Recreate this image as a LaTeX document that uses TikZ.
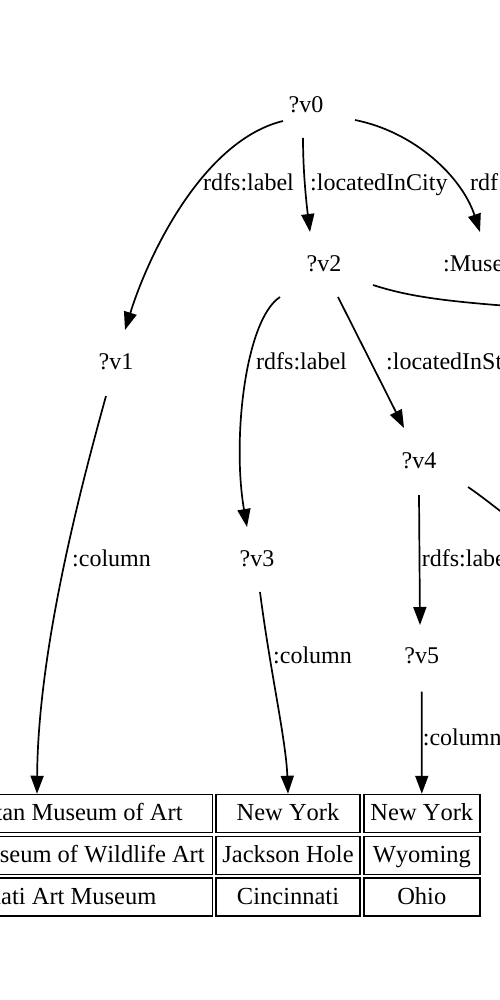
\documentclass[tikz,border=0pt]{standalone}
\usepackage{fontspec}
\setmainfont{Liberation Serif}[Kerning=Off]
\usetikzlibrary{arrows.meta}
\begin{document}
\begin{tikzpicture}[x=1pt,y=-1pt,
  lbl/.style={inner sep=0pt, anchor=base, font=\fontsize{24}{28}\selectfont},
  lblw/.style={lbl, anchor=base west},
  cell/.style={draw, line width=1.7pt, inner sep=0pt, minimum height=38pt,
    text height=17.3pt, text depth=2.8pt, font=\fontsize{24.5}{29}\selectfont},
  edge/.style={line width=1.7pt, -{Triangle[length=18pt,width=13pt]}},
  plainedge/.style={line width=1.7pt}]
\useasboundingbox (0,0) rectangle (500,1000);
\fill[white] (0,0) rectangle (500,1000);
\clip (0,0) rectangle (500,1000);

% variable nodes
\node[lbl] (v0) at (306,113) {?v0};
\node[lbl] (v1) at (116,369.5) {?v1};
\node[lbl] (v2) at (324,271.5) {?v2};
\node[lblw] (mus) at (443,271.5) {:Museum};
\node[lbl] (v3) at (257,566.5) {?v3};
\node[lbl] (v4) at (419,468.5) {?v4};
\node[lbl] (v5) at (421.7,663.5) {?v5};

% edge labels
\node[lblw] (l01) at (203,191) {rdfs:label};
\node[lblw] (l02) at (310,191) {:locatedInCity};
\node[lblw] (l0m) at (470,191) {rdf:type};
\node[lblw] (l23) at (256,369.5) {rdfs:label};
\node[lblw] (l24) at (386,369.5) {:locatedInState};
\node[lblw] (l1c) at (72,566.5) {:column};
\node[lblw] (l45) at (421.7,566.5) {rdfs:label};
\node[lblw] (l3c) at (273,663.5) {:column};
\node[lblw] (l5c) at (422.7,745) {:column};

% table cells
\node[cell, minimum width=345pt] (c11) at (40,813.6) {Metropolitan Museum of Art};
\node[cell, minimum width=143.5pt] (c12) at (288,813.6) {New York};
\node[cell, minimum width=116pt] (c13) at (421.8,813.6) {New York};
\node[cell, minimum width=345pt] (c21) at (40,855.4) {National Museum of Wildlife Art};
\node[cell, minimum width=143.5pt] (c22) at (288,855.4) {Jackson Hole};
\node[cell, minimum width=116pt] (c23) at (421.8,855.4) {Wyoming};
\node[cell, minimum width=345pt] (c31) at (40,897.2) {Cincinnati Art Museum};
\node[cell, minimum width=143.5pt] (c32) at (288,897.2) {Cincinnati};
\node[cell, minimum width=116pt] (c33) at (421.8,897.2) {Ohio};

% off-picture ends
\coordinate (o2) at (570,310);
\coordinate (o4) at (540,540);

% connectors
\draw[edge] ([shift={(-23,8)}]v0.base) .. controls (205,140) and (150,250) .. ([shift={(9,-39.5)}]v1.base);
\draw[edge] ([shift={(-3,25)}]v0.base) .. controls (303,170) and (306,200) .. ([shift={(-14,-39.5)}]v2.base);
\draw[edge] ([shift={(49,7)}]v0.base) .. controls (415,132) and (462,177) .. ([shift={(37,-39.5)}]mus.base west);
\draw[edge] ([shift={(-44,25.5)}]v2.base) .. controls (245,320) and (232,440) .. ([shift={(-10,-39.5)}]v3.base);
\draw[edge] ([shift={(14,25.5)}]v2.base) -- ([shift={(-15,-40.5)}]v4.base);
\draw[plainedge] ([shift={(49,13.5)}]v2.base) .. controls (410,297) and (450,303) .. (o2);
\draw[plainedge] ([shift={(49,18.5)}]v4.base) .. controls (490,502) and (510,520) .. (o4);
\draw[edge] ([shift={(0,26.5)}]v4.base) -- ([shift={(-1.7,-38.5)}]v5.base);
\draw[edge] ([shift={(-10,26.5)}]v1.base) .. controls (80,490) and (38,650) .. ([xshift=-3pt]c11.north);
\draw[edge] ([shift={(3,25.5)}]v3.base) .. controls (270,670) and (286,740) .. (c12.north);
\draw[edge] ([shift={(0,28)}]v5.base) -- (c13.north);
\end{tikzpicture}
\end{document}
